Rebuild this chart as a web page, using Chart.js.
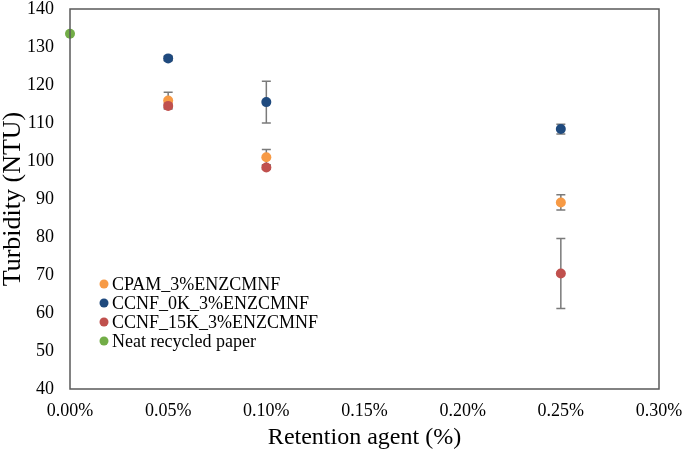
<!DOCTYPE html>
<html>
<head>
<meta charset="utf-8">
<script src="https://cdn.jsdelivr.net/npm/chart.js@4"></script>
<style>
  html, body { margin: 0; padding: 0; background: #fff; }
  #wrap { width: 685px; height: 456px; }
</style>
</head>
<body>
<div id="wrap"><canvas id="chart" width="685" height="456"></canvas></div>
<script>
// Retention agent dose (%) and turbidity (NTU)
const doses = [0.05, 0.10, 0.25];
const cpam = [115.9, 101.0, 89.1];
const cpamErr = [2.2, 2.0, 2.0];
const ccnf0k = [127.0, 115.5, 108.4];
const ccnf0kErr = [0.6, 5.5, 1.3];
const ccnf15k = [114.5, 98.3, 70.4];
const ccnf15kErr = [0.5, 0.5, 9.2];
const neatX = [0.0];
const neat = [133.5];
const neatErr = [0];

const xTicks = [0, 0.05, 0.10, 0.15, 0.20, 0.25, 0.30];
const yTicks = [40, 50, 60, 70, 80, 90, 100, 110, 120, 130, 140];

const seriesNames = ['CPAM_3%ENZCMNF', 'CCNF_0K_3%ENZCMNF', 'CCNF_15K_3%ENZCMNF', 'Neat recycled paper'];
const seriesColors = ['#F79A45', '#1F4A7E', '#C0504D', '#72AD47'];

const serif = "'Liberation Serif', 'Times New Roman', serif";

function pts(xs, ys) {
  return xs.map((x, i) => ({ x: x, y: ys[i] }));
}

const datasets = [
  { label: seriesNames[0], data: pts(doses, cpam), err: cpamErr, order: 4 },
  { label: seriesNames[1], data: pts(doses, ccnf0k), err: ccnf0kErr, order: 3 },
  { label: seriesNames[2], data: pts(doses, ccnf15k), err: ccnf15kErr, order: 2 },
  { label: seriesNames[3], data: pts(neatX, neat), err: neatErr, order: 1 }
].map((d, i) => Object.assign(d, {
  backgroundColor: seriesColors[i],
  borderColor: seriesColors[i],
  pointRadius: 5,
  pointHoverRadius: 5,
  borderWidth: 0,
  clip: false
}));

// error bars drawn behind the markers
const errorBars = {
  id: 'errorBars',
  beforeDatasetsDraw(chart) {
    const ctx = chart.ctx;
    const xs = chart.scales.x, ys = chart.scales.y;
    ctx.save();
    ctx.strokeStyle = '#7a7a7a';
    ctx.lineWidth = 1.5;
    chart.data.datasets.forEach(ds => {
      ds.data.forEach((p, i) => {
        const e = ds.err[i];
        if (!e) return;
        const px = xs.getPixelForValue(p.x);
        const top = ys.getPixelForValue(p.y + e);
        const bot = ys.getPixelForValue(p.y - e);
        ctx.beginPath();
        ctx.moveTo(px, top); ctx.lineTo(px, bot);
        ctx.moveTo(px - 4.5, top); ctx.lineTo(px + 4.5, top);
        ctx.moveTo(px - 4.5, bot); ctx.lineTo(px + 4.5, bot);
        ctx.stroke();
      });
    });
    ctx.restore();
  }
};

// plot frame and legend inside the plot area
const frameAndLegend = {
  id: 'frameAndLegend',
  afterDraw(chart) {
    const ctx = chart.ctx;
    const a = chart.chartArea;
    ctx.save();
    ctx.strokeStyle = '#595959';
    ctx.lineWidth = 1.5;
    ctx.strokeRect(a.left, a.top, a.right - a.left, a.bottom - a.top);

    ctx.font = '18px ' + serif;
    ctx.textBaseline = 'middle';
    chart.data.datasets.forEach((ds, i) => {
      const y = 284 + i * 19;
      ctx.beginPath();
      ctx.fillStyle = ds.backgroundColor;
      ctx.arc(104, y, 4.5, 0, Math.PI * 2);
      ctx.fill();
      ctx.fillStyle = '#000';
      ctx.fillText(ds.label, 112, y + 1);
    });
    ctx.restore();
  }
};

new Chart(document.getElementById('chart'), {
  type: 'scatter',
  data: { datasets },
  plugins: [errorBars, frameAndLegend],
  options: {
    responsive: false,
    animation: false,
    events: [],
    layout: { padding: { top: 9, right: 26, left: 0, bottom: 0 } },
    plugins: { legend: { display: false }, tooltip: { enabled: false } },
    scales: {
      x: {
        type: 'linear',
        min: 0,
        max: 0.30,
        afterBuildTicks: axis => { axis.ticks = xTicks.map(v => ({ value: v })); },
        afterFit: axis => { axis.height = 67; axis.paddingLeft = 0; axis.paddingRight = 0; },
        grid: { display: false, drawTicks: false },
        border: { display: false },
        ticks: {
          padding: 11,
          color: '#000',
          font: { family: serif, size: 18 },
          callback: v => v.toFixed(2) + '%'
        },
        title: {
          display: true,
          text: 'Retention agent (%)',
          color: '#000',
          font: { family: serif, size: 24 },
          padding: { top: 0, bottom: 4 }
        }
      },
      y: {
        min: 40,
        max: 140,
        afterBuildTicks: axis => { axis.ticks = yTicks.map(v => ({ value: v })); },
        afterFit: axis => { axis.width = 70; axis.paddingTop = 0; axis.paddingBottom = 0; },
        grid: { display: false, drawTicks: false },
        border: { display: false },
        ticks: {
          padding: 16,
          color: '#000',
          font: { family: serif, size: 18 }
        },
        title: {
          display: true,
          text: 'Turbidity (NTU)',
          color: '#000',
          font: { family: serif, size: 26, lineHeight: 1.0 },
          padding: { top: 0, bottom: 0 }
        }
      }
    }
  }
});
</script>
</body>
</html>
